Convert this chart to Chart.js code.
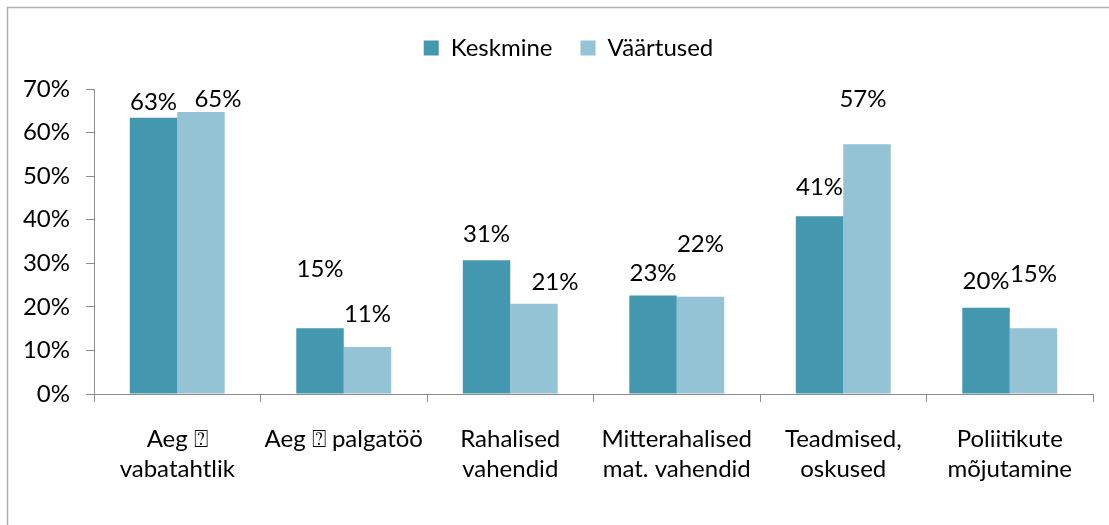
<!DOCTYPE html>
<html>
<head>
<meta charset="utf-8">
<script src="https://cdn.jsdelivr.net/npm/chart.js@4/dist/chart.umd.min.js"></script>
<style>
html,body{margin:0;padding:0;background:#fff;overflow:hidden}
#wrap{position:absolute;left:0;top:0;width:1109px;height:525px}
</style>
</head>
<body>
<div id="wrap"><canvas id="c" width="1109" height="525"></canvas></div>
<script>
const categories = [
  ["Aeg \u2370", "vabatahtlik"],
  ["Aeg \u2370 palgatöö"],
  ["Rahalised", "vahendid"],
  ["Mitterahalised", "mat. vahendid"],
  ["Teadmised,", "oskused"],
  ["Poliitikute", "mõjutamine"]
];
const seriesNames = ["Keskmine", "Väärtused"];
const keskmine = [63.4, 15.1, 30.7, 22.6, 40.8, 19.8];
const vaartused = [64.7, 10.8, 20.7, 22.3, 57.3, 15.1];
const yTicks = [0, 10, 20, 30, 40, 50, 60, 70];
// where each data label sits (in axis units) and its sideways nudge
const labelAtK = [67.0, 28.6, 36.6, 27.6, 47.4, 25.8];
const labelAtV = [67.7, 18.2, 25.6, 34.3, 67.7, 27.4];
const labelShiftK = [0, 0, 0, 0, 0, 0];
const labelShiftV = [17, 0, 21, 0, -4, 0];

const FONT = "Lato, 'Open Sans', sans-serif";
const FS = 24;

const borderPlugin = {
  id: 'outerBorder',
  beforeDraw(chart) {
    const ctx = chart.ctx;
    ctx.save();
    ctx.fillStyle = '#fff';
    ctx.fillRect(0, 0, chart.width, chart.height);
    ctx.strokeStyle = '#b0b0b0';
    ctx.lineWidth = 1.5;
    ctx.strokeRect(7.5, 7.5, 2000, 2000);
    ctx.restore();
  }
};

const legendShift = {
  id: 'legendShift',
  afterLayout(chart) {
    const lg = chart.legend;
    if (lg) { lg.left += 22; lg.right += 22; }
  }
};

const labelPlugin = {
  id: 'dataLabels',
  afterDatasetsDraw(chart) {
    const ctx = chart.ctx;
    const ys = chart.scales.y;
    const at = [labelAtK, labelAtV];
    const sh = [labelShiftK, labelShiftV];
    ctx.save();
    ctx.font = FS + "px " + FONT;
    ctx.fillStyle = '#000';
    ctx.textAlign = 'center';
    ctx.textBaseline = 'middle';
    chart.data.datasets.forEach((ds, di) => {
      const meta = chart.getDatasetMeta(di);
      meta.data.forEach((bar, i) => {
        const txt = Math.round(ds.data[i]) + '%';
        ctx.fillText(txt, bar.x + sh[di][i], ys.getPixelForValue(at[di][i]));
      });
    });
    ctx.restore();
  }
};

new Chart(document.getElementById('c'), {
  type: 'bar',
  data: {
    labels: categories,
    datasets: [
      { label: seriesNames[0], data: keskmine, backgroundColor: '#4397AF', borderWidth: 0 },
      { label: seriesNames[1], data: vaartused, backgroundColor: '#94C3D5', borderWidth: 0 }
    ]
  },
  options: {
    responsive: false,
    animation: false,
    devicePixelRatio: 1,
    layout: { padding: { top: 8, right: 16, left: 0, bottom: 0 } },
    datasets: { bar: { categoryPercentage: 0.57, barPercentage: 1.0 } },
    plugins: {
      legend: {
        position: 'top',
        labels: {
          font: { family: FONT, size: FS },
          color: '#000',
          boxWidth: 15,
          boxHeight: 15,
          padding: 28
        }
      },
      subtitle: {
        display: true,
        text: ' ',
        weight: 500,
        position: 'top',
        font: { size: 10, lineHeight: 1 },
        padding: { top: 4, bottom: 5 }
      },
      tooltip: { enabled: false }
    },
    scales: {
      x: {
        afterFit(s) { s.height = 131; },
        grid: { display: true, drawOnChartArea: false, offset: true, tickLength: 8, color: '#8c8c8c', lineWidth: 1 },
        border: { color: '#8c8c8c', width: 1 },
        ticks: { font: { family: FONT, size: FS, lineHeight: 1.25 }, color: '#000', padding: 22, maxRotation: 0, autoSkip: false }
      },
      y: {
        min: 0, max: 70,
        afterFit(s) { s.width = 94; },
        afterBuildTicks(s) { s.ticks = yTicks.map(v => ({ value: v })); },
        grid: { display: true, drawOnChartArea: false, tickLength: 8, color: '#8c8c8c', lineWidth: 1 },
        border: { color: '#8c8c8c', width: 1 },
        ticks: { font: { family: FONT, size: FS }, color: '#000', padding: 16, callback: v => v + '%' }
      }
    }
  },
  plugins: [borderPlugin, legendShift, labelPlugin]
});
</script>
</body>
</html>
